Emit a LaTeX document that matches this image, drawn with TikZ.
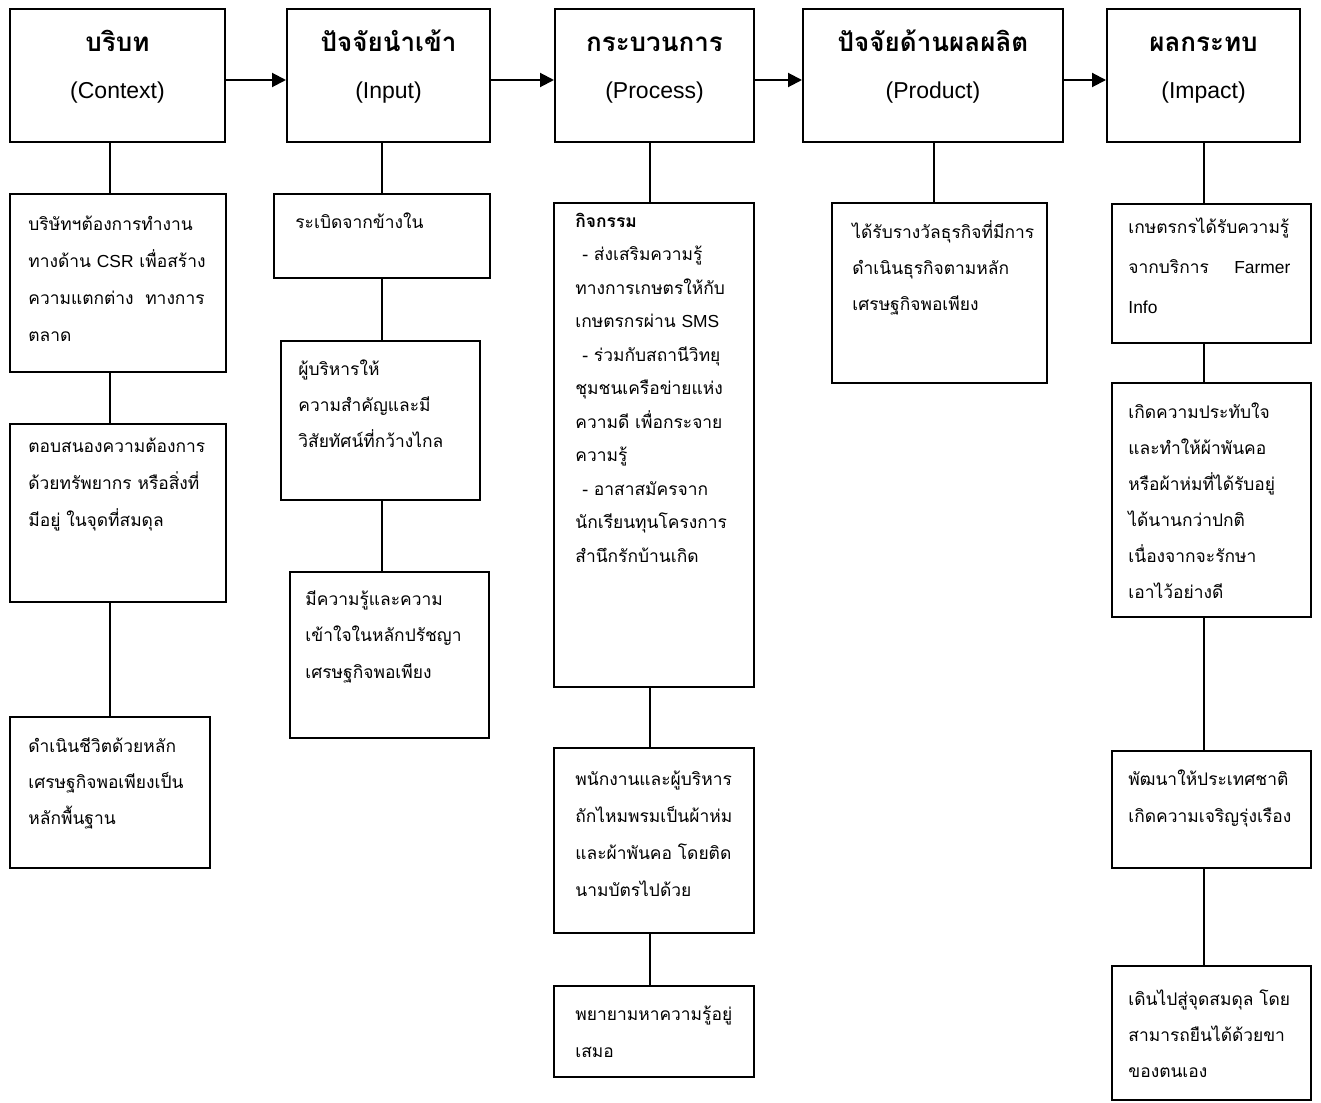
\documentclass[tikz,border=0pt]{standalone}
\usepackage{fontspec}
\newfontfamily\thaifont[Script=Thai]{Loma}
\newfontfamily\latfont{Liberation Sans}
\usetikzlibrary{arrows.meta,fit}
\tikzset{
	panel/.style={draw, line width=1pt, inner sep=0pt},
	head/.style={font=\thaifont\bfseries\fontsize{13}{23.5}\selectfont, text width=110pt, align=center, anchor=base, inner sep=0pt},
	body/.style={font=\thaifont\fontsize{8.7}{#1}\selectfont, text width=150pt, align=left, anchor=base west, inner sep=0pt},
	body/.default=18.5pt,
	flow/.style={line width=1pt, -{Triangle[length=7pt,width=7pt]}},
	link/.style={line width=1pt}
}
\newcommand{\eng}[1]{{\latfont\mdseries\fontsize{11.5}{23.5}\selectfont #1}}

\begin{document}
\begin{tikzpicture}[x=0.5pt, y=-0.5pt]
	%%%%% START %%%%%
	\useasboundingbox (0,0) rectangle (1321,1102);
	
	\coordinate (titlerow) at (0,52);
	\coordinate (arrowrow) at (0,80);
	\coordinate (colA) at (110,0);
	\coordinate (colB) at (382,0);
	\coordinate (colC) at (650,0);
	\coordinate (colD) at (934,0);
	\coordinate (colE) at (1204,0);
	
	% top row
	\node[panel, fit={(10,9) (225,142)}] (ctx) {};
	\node[panel, fit={(287,9) (490,142)}] (inp) {};
	\node[panel, fit={(555,9) (754,142)}] (prc) {};
	\node[panel, fit={(803,9) (1063,142)}] (prd) {};
	\node[panel, fit={(1107,9) (1300,142)}] (imp) {};
	
	\node[head] (ctxhead) at (ctx |- titlerow) {บริบท\\\eng{(Context)}};
	\node[head] (inphead) at (inp |- titlerow) {ปัจจัยนำเข้า\\\eng{(Input)}};
	\node[head] (prchead) at (prc |- titlerow) {กระบวนการ\\\eng{(Process)}};
	\node[head] (prdhead) at (prd |- titlerow) {ปัจจัยด้านผลผลิต\\\eng{(Product)}};
	\node[head] (imphead) at (imp |- titlerow) {ผลกระทบ\\\eng{(Impact)}};
	
	% context
	\node[panel, fit={(10,194) (226,372)}] (ctx1) {};
	\node[panel, fit={(10,424) (226,602)}] (ctx2) {};
	\node[panel, fit={(10,717) (210,868)}] (ctx3) {};
	\node[body] (ctx1t) at (28,230) {บริษัทฯต้องการทำงาน\\ทางด้าน {\latfont CSR} เพื่อสร้าง\\ความแตกต่าง~ ทางการ\\ตลาด};
	\node[body] (ctx2t) at (28,452) {ตอบสนองความต้องการ\\ด้วยทรัพยากร หรือสิ่งที่\\มีอยู่ ในจุดที่สมดุล};
	\node[body=18pt] (ctx3t) at (28,752) {ดำเนินชีวิตด้วยหลัก\\เศรษฐกิจพอเพียงเป็น\\หลักพื้นฐาน};
	
	% input
	\node[panel, fit={(274,194) (490,278)}] (inp1) {};
	\node[panel, fit={(281,341) (480,500)}] (inp2) {};
	\node[panel, fit={(290,572) (489,738)}] (inp3) {};
	\node[body] (inp1t) at (295,228) {ระเบิดจากข้างใน};
	\node[body=18pt] (inp2t) at (298,375) {ผู้บริหารให้\\ความสำคัญและมี\\วิสัยทัศน์ที่กว้างไกล};
	\node[body=18.25pt] (inp3t) at (305,605) {มีความรู้และความ\\เข้าใจในหลักปรัชญา\\เศรษฐกิจพอเพียง};
	
	% process
	\node[panel, fit={(554,203) (754,687)}] (prc1) {};
	\node[panel, fit={(554,748) (754,933)}] (prc2) {};
	\node[panel, fit={(554,986) (754,1077)}] (prc3) {};
	\node[body=16.75pt] (prc1t) at (575,227) {{\bfseries กิจกรรม}\\
		\leavevmode\hspace*{3.5pt}- ส่งเสริมความรู้\\
		ทางการเกษตรให้กับ\\
		เกษตรกรผ่าน {\latfont SMS}\\
		\leavevmode\hspace*{3.5pt}- ร่วมกับสถานีวิทยุ\\
		ชุมชนเครือข่ายแห่ง\\
		ความดี เพื่อกระจาย\\
		ความรู้\\
		\leavevmode\hspace*{3.5pt}- อาสาสมัครจาก\\
		นักเรียนทุนโครงการ\\
		สำนึกรักบ้านเกิด};
	\node[body] (prc2t) at (575,785) {พนักงานและผู้บริหาร\\ถักไหมพรมเป็นผ้าห่ม\\และผ้าพันคอ โดยติด\\นามบัตรไปด้วย};
	\node[body] (prc3t) at (575,1020) {พยายามหาความรู้อยู่\\เสมอ};
	
	% product
	\node[panel, fit={(832,203) (1047,383)}] (prd1) {};
	\node[body=18pt] (prd1t) at (852,238) {ได้รับรางวัลธุรกิจที่มีการ\\ดำเนินธุรกิจตามหลัก\\เศรษฐกิจพอเพียง};
	
	% impact
	\node[panel, fit={(1112,204) (1311,343)}] (imp1) {};
	\node[panel, fit={(1112,383) (1311,617)}] (imp2) {};
	\node[panel, fit={(1112,751) (1311,868)}] (imp3) {};
	\node[panel, fit={(1112,966) (1311,1100)}] (imp4) {};
	\node[body=20pt] (imp1t) at (1128,233) {เกษตรกรได้รับความรู้\\\leavevmode\hbox to 81pt{จากบริการ\hfill{\latfont Farmer}}\\{\latfont Info}};
	\node[body=18pt] (imp2t) at (1128,418) {เกิดความประทับใจ\\และทำให้ผ้าพันคอ\\หรือผ้าห่มที่ได้รับอยู่\\ได้นานกว่าปกติ\\เนื่องจากจะรักษา\\เอาไว้อย่างดี};
	\node[body] (imp3t) at (1128,785) {พัฒนาให้ประเทศชาติ\\เกิดความเจริญรุ่งเรือง};
	\node[body=18pt] (imp4t) at (1128,1005) {เดินไปสู่จุดสมดุล โดย\\สามารถยืนได้ด้วยขา\\ของตนเอง};
	
	% connectors
	\foreach \a/\b in {ctx/inp, inp/prc, prc/prd, prd/imp}
		\draw[flow] (\a.east |- arrowrow) -- (\b.west |- arrowrow);
	\foreach \a/\b/\c in {ctx/ctx1/colA, ctx1/ctx2/colA, ctx2/ctx3/colA,
		inp/inp1/colB, inp1/inp2/colB, inp2/inp3/colB,
		prc/prc1/colC, prc1/prc2/colC, prc2/prc3/colC,
		prd/prd1/colD,
		imp/imp1/colE, imp1/imp2/colE, imp2/imp3/colE, imp3/imp4/colE}
		\draw[link] (\a.south -| \c) -- (\b.north -| \c);
	
	%%%%% END %%%%%
\end{tikzpicture}
\end{document}
